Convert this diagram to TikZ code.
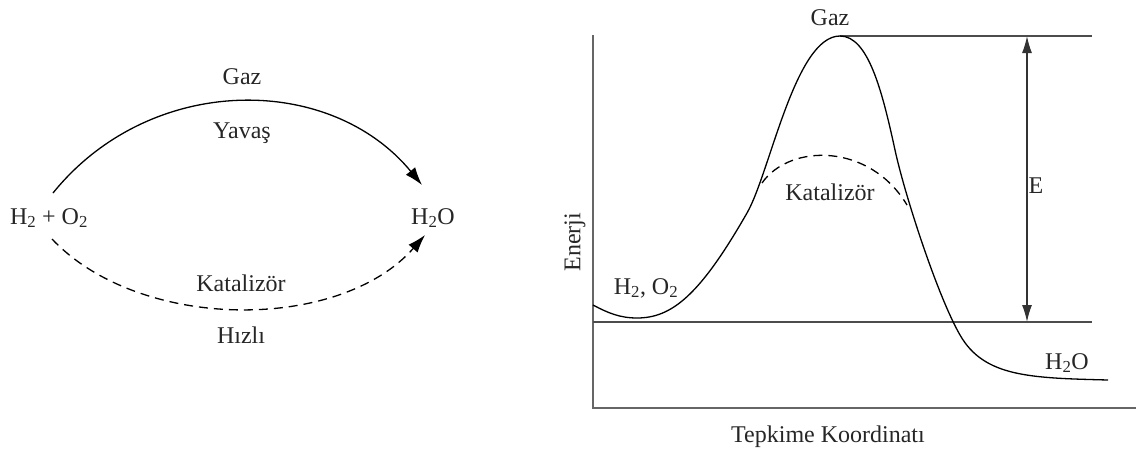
\documentclass[tikz,border=0pt]{standalone}
\usepackage{fontspec}
\setmainfont{Liberation Serif}
\usetikzlibrary{arrows.meta}
\begin{document}
\begin{tikzpicture}[x=1pt,y=-1pt,
  lbl/.style={font=\fontsize{24}{28}\selectfont, inner sep=0pt, text=black!85},
  curve/.style={line width=1.3pt, black},
  dcurve/.style={line width=1.3pt, black, dash pattern=on 9pt off 6pt},
  axisline/.style={line width=2pt, black!60},
  level/.style={line width=1.8pt, black!70},
  tip/.style={-{Latex[length=18pt,width=12pt]}},
  dtip/.style={{Latex[length=17pt,width=10pt]}-{Latex[length=17pt,width=10pt]}}]
\useasboundingbox (0,0) rectangle (1136,453);
% ---------- left diagram ----------
\node[lbl] (react) at (49,218) {H\textsubscript{2} + O\textsubscript{2}};
\node[lbl] (prod) at (433,218) {H\textsubscript{2}O};
\node[lbl] (gazL) at (242,77) {Gaz};
\node[lbl] (yavas) at (242,133) {Yavaş};
\node[lbl] (katL) at (241,283) {Katalizör};
\node[lbl] (hizli) at (241,335) {Hızlı};
\coordinate (s1) at (53,193);
\coordinate (e1) at (422,185);
\coordinate (s2) at (52,239);
\coordinate (e2) at (425,235);
\draw[curve,tip] (s1) .. controls (150,73) and (330,73) .. (e1);
\draw[dcurve,tip] (s2) .. controls (140,332) and (340,332) .. (e2);
% ---------- right diagram ----------
\coordinate (ytop) at (593,35);
\coordinate (orig) at (593,408);
\coordinate (xend) at (1136,408);
\draw[axisline] (ytop) -- (orig) -- (xend);
\coordinate (peak) at (840,36);
\coordinate (topend) at (1092,36);
\coordinate (base0) at (593,322);
\coordinate (baseend) at (1092,322);
\draw[level] (peak) -- (topend);
\draw[level] (base0) -- (baseend);
\coordinate (cStart) at (593,305);
\coordinate (cMin) at (637,318);
\coordinate (cL) at (747,213);
\coordinate (cR) at (895,150);
\coordinate (cR2) at (960,335);
\coordinate (cEnd) at (1108,380);
\draw[curve] (cStart) .. controls (608,313) and (620,318) .. (cMin)
  .. controls (672,318) and (700,295) .. (cL)
  .. controls (770,173) and (795,36) .. (peak)
  .. controls (868,36) and (882,90) .. (cR)
  .. controls (905,196) and (938,297) .. (cR2)
  .. controls (984,377) and (1030,378) .. (cEnd);
\coordinate (dS) at (762,183);
\coordinate (dE) at (907,205);
\draw[dcurve] (dS) .. controls (790,143) and (870,143) .. (dE);
\coordinate (eTop) at (1027,36);
\coordinate (eBot) at (1027,322);
\draw[line width=1.3pt, black!80, dtip] (eTop) -- (eBot);
\node[lbl] (eLab) at (1036,186) {E};
\node[lbl] (gazR) at (830,18) {Gaz};
\node[lbl] (katR) at (830,192) {Katalizör};
\node[lbl] (reac2) at (646,288) {H\textsubscript{2}, O\textsubscript{2}};
\node[lbl] (prod2) at (1067,363) {H\textsubscript{2}O};
\node[lbl, rotate=90] (enerji) at (575,242) {Enerji};
\node[lbl] (xlab) at (828,437) {Tepkime Koordinatı};
\end{tikzpicture}
\end{document}
